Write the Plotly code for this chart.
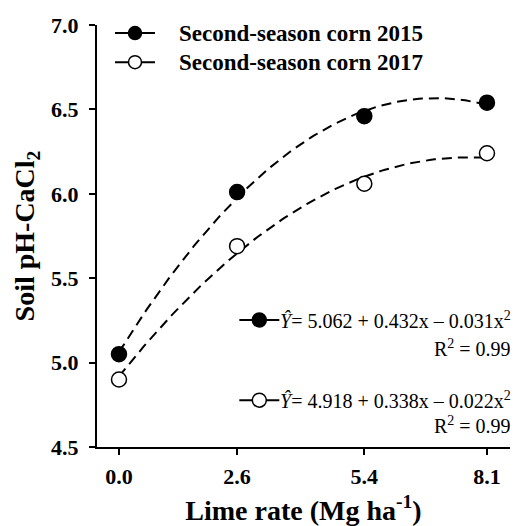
import numpy as np
import plotly.graph_objects as go

# ---- data ----
lime_rate = [0.0, 2.6, 5.4, 8.1]
tick_labels = ["0.0", "2.6", "5.4", "8.1"]
ph_2015 = [5.05, 6.01, 6.46, 6.54]
ph_2017 = [4.90, 5.69, 6.06, 6.24]
coef_2015 = [5.062, 0.432, -0.031]
coef_2017 = [4.918, 0.338, -0.022]
series_names = ["Second-season corn 2015", "Second-season corn 2017"]
eq_texts = ["<i>Ŷ</i>= 5.062 + 0.432x – 0.031x<sup>2</sup>",
            "<i>Ŷ</i>= 4.918 + 0.338x – 0.022x<sup>2</sup>"]
r2_texts = ["R<sup>2</sup> = 0.99", "R<sup>2</sup> = 0.99"]

FONT = "Liberation Serif"
xs = np.linspace(min(lime_rate), max(lime_rate), 120)

fig = go.Figure()
for coef in (coef_2015, coef_2017):
    ys = coef[0] + coef[1] * xs + coef[2] * xs ** 2
    fig.add_trace(go.Scatter(x=xs, y=ys, mode="lines",
                             line=dict(color="black", width=2, dash="10px,6px"),
                             showlegend=False, hoverinfo="skip"))

fills = ["black", "white"]
for vals, fill, name in zip((ph_2015, ph_2017), fills, series_names):
    fig.add_trace(go.Scatter(x=lime_rate, y=vals, mode="markers", name=name,
                             marker=dict(size=15, color=fill, symbol="circle",
                                         line=dict(color="black", width=1.5)),
                             showlegend=False))

# ---- manual legend & equation keys (paper coords) ----
shapes = []
annotations = []

def key(xc, yc, fill, half_len=20, r=6.5):
    shapes.append(dict(type="line", xref="paper", yref="paper",
                       xsizemode="pixel", xanchor=xc, x0=-half_len, x1=half_len,
                       y0=yc, y1=yc, line=dict(color="black", width=2)))
    shapes.append(dict(type="circle", xref="paper", yref="paper",
                       xsizemode="pixel", ysizemode="pixel",
                       xanchor=xc, yanchor=yc, x0=-r, x1=r, y0=-r, y1=r,
                       fillcolor=fill, line=dict(color="black", width=1.5)))

leg_y = [0.981, 0.912]
for yy, fill, name in zip(leg_y, fills, series_names):
    key(0.092, yy, fill)
    annotations.append(dict(xref="paper", yref="paper", x=0.1937, y=yy,
                            xanchor="left", yanchor="middle", showarrow=False,
                            text=name,
                            font=dict(family=FONT, size=23, color="black", weight="bold")))

eq_y = [0.301, 0.111]
r2_y = [0.2346, 0.052]
for yy, ry, fill, eq, r2 in zip(eq_y, r2_y, fills, eq_texts, r2_texts):
    key(0.393, yy, fill, half_len=20, r=7)
    annotations.append(dict(xref="paper", yref="paper", x=1.007, y=yy,
                            xanchor="right", yanchor="middle", showarrow=False,
                            text=eq, font=dict(family=FONT, size=20, color="black")))
    annotations.append(dict(xref="paper", yref="paper", x=1.007, y=ry,
                            xanchor="right", yanchor="middle", showarrow=False,
                            text=r2, font=dict(family=FONT, size=20, color="black")))

fig.update_layout(
    template="none",
    width=517, height=526,
    margin=dict(l=97, r=7, t=25, b=79, autoexpand=False),
    paper_bgcolor="white", plot_bgcolor="white",
    shapes=shapes, annotations=annotations,
    font=dict(family=FONT, color="black"),
)
fig.update_xaxes(
    automargin=False,
    range=[-0.484, 8.607], tickvals=lime_rate, ticktext=tick_labels,
    showgrid=False, zeroline=False, showline=True, linecolor="black", linewidth=2,
    ticks="outside", ticklen=6, tickwidth=2, tickcolor="black",
    ticklabelstandoff=3,
    tickfont=dict(family=FONT, size=22, color="black", weight="bold"),
    title=dict(text="Lime rate (Mg ha<sup>-1</sup>)", standoff=12,
               font=dict(family=FONT, size=28, color="black", weight="bold")),
)
fig.update_yaxes(
    automargin=False,
    range=[4.5, 7.0], tickvals=[4.5, 5.0, 5.5, 6.0, 6.5, 7.0],
    ticktext=["4.5", "5.0", "5.5", "6.0", "6.5", "7.0"],
    showgrid=False, zeroline=False, showline=True, linecolor="black", linewidth=2,
    ticks="outside", ticklen=6, tickwidth=2, tickcolor="black",
    ticklabelstandoff=6,
    tickfont=dict(family=FONT, size=22, color="black", weight="bold"),
    title=dict(text="Soil pH-CaCl<sub>2</sub>", standoff=8,
               font=dict(family=FONT, size=28, color="black", weight="bold")),
)

fig.write_html("out.html", config={"displayModeBar": False},
               post_script="document.body.style.margin='0';document.body.style.overflow='hidden';")
